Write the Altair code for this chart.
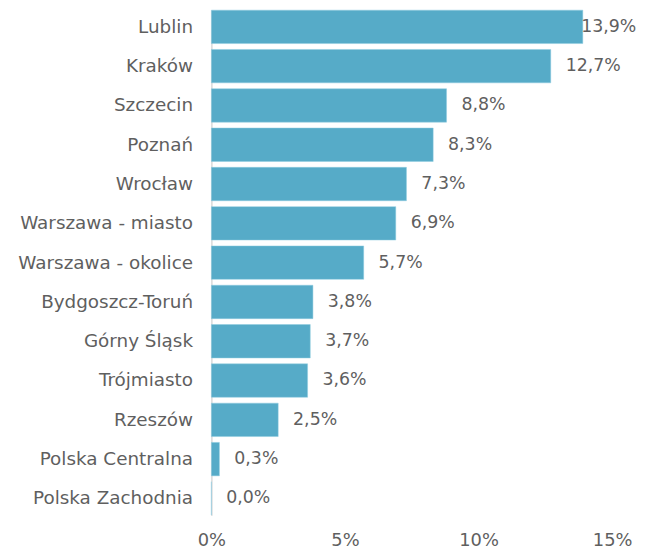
import altair as alt
import pandas as pd

categories = ["Lublin", "Kraków", "Szczecin", "Poznań", "Wrocław", "Warszawa - miasto",
              "Warszawa - okolice", "Bydgoszcz-Toruń", "Górny Śląsk", "Trójmiasto",
              "Rzeszów", "Polska Centralna", "Polska Zachodnia"]
values = [13.9, 12.7, 8.8, 8.3, 7.3, 6.9, 5.7, 3.8, 3.7, 3.6, 2.5, 0.3, 0.0]
x_ticks = [0, 5, 10, 15]

df = pd.DataFrame({"city": categories, "value": values})

FONT = "DejaVu Sans"
GREY = "#5f5f5f"
BAR = "#56ABC8"

y_enc = alt.Y("city:N", sort=categories, title=None,
              scale=alt.Scale(paddingInner=0.15, paddingOuter=0.0),
              axis=alt.Axis(ticks=False, domainColor="#d9d9d9", domainWidth=1.5,
                            labelFont=FONT, labelFontSize=18.5, labelColor=GREY,
                            labelPadding=19))

x_scale = alt.Scale(domain=[0, 15], nice=False)

bars = alt.Chart(df).mark_bar(color=BAR, stroke="#8fcbe0", strokeWidth=0.5).encode(
    x=alt.X("value:Q", scale=x_scale, title=None,
            axis=alt.Axis(values=x_ticks, grid=False, domain=False, ticks=False,
                          labelExpr="datum.value + '%'", labelFont=FONT,
                          labelFontSize=18, labelColor=GREY, labelPadding=17,
                          labelFlush=False)),
    y=y_enc,
)

labels = alt.Chart(df).transform_calculate(
    label="replace(format(datum.value, '.1f'), '.', ',') + '%'",
    lx="min(datum.value, 13.28)",
).mark_text(align="left", baseline="middle", dx=15, font=FONT, fontSize=17.5,
            color=GREY).encode(
    x=alt.X("lx:Q", scale=x_scale),
    y=alt.Y("city:N", sort=categories),
    text="label:N",
)

chart = (bars + labels).properties(
    width=404, height=509,
    background="white",
    autosize=alt.AutoSizeParams(type="none"),
    padding={"left": 205, "top": 0, "right": 26, "bottom": 36},
).configure_view(strokeWidth=0, stroke="transparent")

chart.save("out.html", embed_options={"renderer": "svg", "actions": False})
